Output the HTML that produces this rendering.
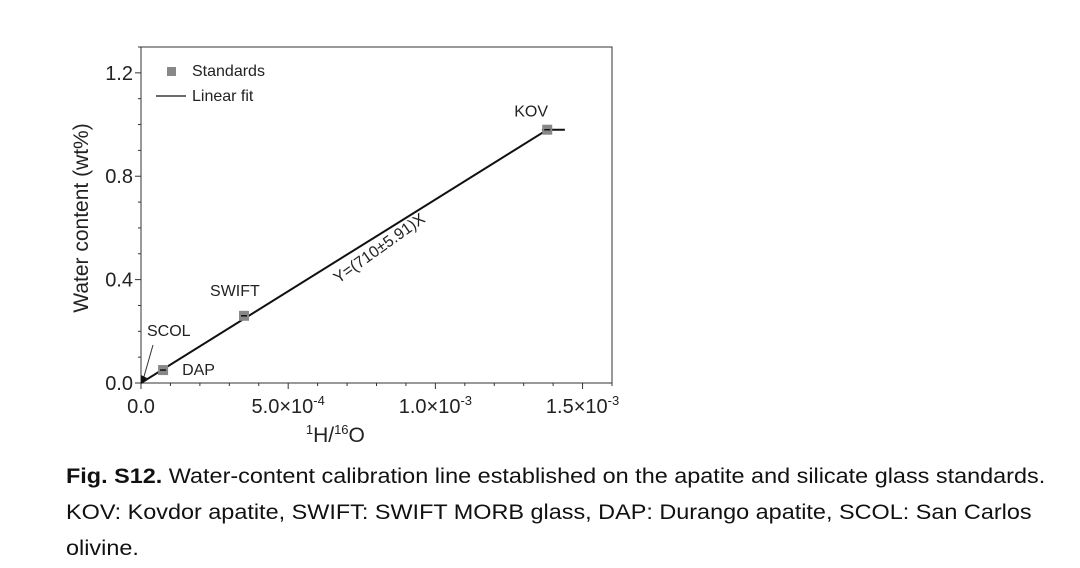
<!DOCTYPE html>
<html><head><meta charset="utf-8"><style>
body{margin:0;background:#fff;width:1080px;height:568px;overflow:hidden;font-family:"Liberation Sans",Arial,sans-serif}
.cap{position:absolute;left:66px;font-size:21px;color:#111;transform:scaleX(1.115);transform-origin:0 0;white-space:nowrap}
</style></head><body>
<svg width="1080" height="460" style="position:absolute;left:0;top:0" font-family="Liberation Sans, Arial, sans-serif">
<g id="g"></g>
</svg>
<div class="cap" style="top:465px"><b>Fig. S12.</b> Water-content calibration line established on the apatite and silicate glass standards.</div>
<div class="cap" style="top:501px">KOV: Kovdor apatite, SWIFT: SWIFT MORB glass, DAP: Durango apatite, SCOL: San Carlos</div>
<div class="cap" style="top:537px">olivine.</div>
<script>
const names=["DAP","SWIFT","KOV","SCOL"];
const xs=[7.5e-5,3.5e-4,1.38e-3,0.5e-5];
const ys=[0.05,0.26,0.98,0.005];
const xErr=[0,0,6e-5,0];
const xTicks=[0,5e-4,1e-3,1.5e-3];
const xTickLabels=["0.0","5.0×10","1.0×10","1.5×10"];
const xTickExp=["","-4","-3","-3"];
const yTicks=[0,0.4,0.8,1.2];
const yTickLabels=["0.0","0.4","0.8","1.2"];
const slope=710;
const L=141,R=612,T=47,B=383;
const X=v=>L+v/1.6e-3*(R-L);
const Y=v=>B-v/1.3*(B-T);
const g=document.getElementById('g');
const NS="http://www.w3.org/2000/svg";
function mk(t,a,txt){const e=document.createElementNS(NS,t);for(const k in a)e.setAttribute(k,a[k]);if(txt!=null)e.textContent=txt;g.appendChild(e);return e;}
let e=mk('rect',{x:L,y:T,width:R-L,height:B-T,fill:'none',stroke:'#333','stroke-width':1});


for(let i=0;i<=16;i++){const v=i*1e-4;const maj=i%5==0;mk('line',{x1:X(v),x2:X(v),y1:B,y2:B+(maj?6:3),stroke:'#333'});}
for(let i=0;i<=13;i++){const v=i*0.1;const maj=i%4==0;mk('line',{x1:L,x2:L-(maj?6:3),y1:Y(v),y2:Y(v),stroke:'#333'});}
xTicks.forEach((v,i)=>{const t=mk('text',{x:X(v),y:B+30,'font-size':20,'text-anchor':'middle',fill:'#222'});


t.textContent=xTickLabels[i];if(xTickExp[i]){const s=document.createElementNS(NS,'tspan');s.setAttribute('dy','-8');s.setAttribute('font-size','13');s.textContent=xTickExp[i];t.appendChild(s);}});
yTicks.forEach((v,i)=>{const t=mk('text',{x:L-8,y:Y(v)+7,'font-size':20,'text-anchor':'end',fill:'#222'},yTickLabels[i]);

});
e=mk('text',{x:88,y:B-165,'font-size':21,'text-anchor':'middle',fill:'#222',transform:`rotate(-90 88 ${B-165})`},'Water content (wt%)');


e=mk('text',{x:X(5.6e-4),y:442,'font-size':21,fill:'#222'});


e.innerHTML='<tspan font-size="13" dy="-8">1</tspan><tspan dy="8">H/</tspan><tspan font-size="13" dy="-8">16</tspan><tspan dy="8">O</tspan>';
const xm=ys[2]/slope;
e=mk('line',{x1:X(0),y1:Y(0),x2:X(xm),y2:Y(slope*xm),stroke:'#111','stroke-width':2});


for(let i=0;i<3;i++){
 if(xErr[i]){e=mk('line',{x1:X(xs[i]-xErr[i]*0.3),x2:X(xs[i]+xErr[i]),y1:Y(ys[i]),y2:Y(ys[i]),stroke:'#111','stroke-width':2});}
 e=mk('rect',{x:X(xs[i])-5,y:Y(ys[i])-5,width:10,height:10,fill:'#888'});
 
 
 mk('line',{x1:X(xs[i])-3,x2:X(xs[i])+3,y1:Y(ys[i]),y2:Y(ys[i]),stroke:'#111','stroke-width':1.5});
}
const lbl=(t,x,y,n)=>{const e=mk('text',{x,y,'font-size':16,fill:'#222'},t);};
lbl('KOV',X(xs[2])-33,Y(ys[2])-13,'label-kov');
lbl('SWIFT',X(xs[1])-34,Y(ys[1])-20,'label-swift');
lbl('DAP',X(xs[0])+19,Y(ys[0])+5,'label-dap');
lbl('SCOL',147,336,'label-scol');
e=mk('line',{x1:153,y1:345,x2:143,y2:380,stroke:'#333','stroke-width':1});


mk('path',{d:'M141,383 L141,375 L147,378 Z',fill:'#111'});
const mx=6.5e-4;
e=mk('text',{x:0,y:0,'font-size':16,fill:'#222',transform:`translate(${X(mx)+6},${Y(slope*mx)+20}) rotate(-35.5)`},'Y=(710±5.91)X');


e=mk('rect',{x:167,y:67,width:9,height:9,fill:'#888'});


lbl('Standards',192,76,'legend-standards');
e=mk('line',{x1:156,x2:186,y1:96,y2:96,stroke:'#111','stroke-width':1.2});


lbl('Linear fit',192,101,'legend-linear-fit');
</script>
</body></html>
